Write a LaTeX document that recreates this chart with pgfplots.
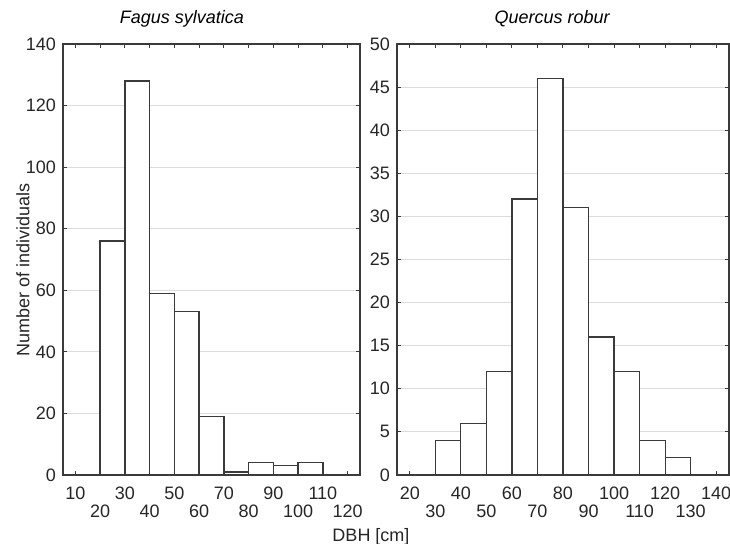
\documentclass[border=0pt]{standalone}
\usepackage{fontspec}
\setmainfont{Liberation Sans}
\usepackage{pgfplots}
\pgfplotsset{compat=1.18}

\definecolor{edge}{HTML}{3A3A3A}
\definecolor{gridc}{HTML}{DCDCDC}

\pgfplotsset{
  hist/.style={
    scale only axis,
    height=215.5pt,
    ymin=0,
    tick align=inside,
    major tick length=2pt,
    axis line style={edge, line width=0.6pt},
    every tick/.style={edge, line width=0.5pt},
    ymajorgrids, major grid style={gridc, line width=0.4pt},
    tick label style={font=\fontsize{9}{11}\selectfont, text=black!85},
    /pgf/number format/assume math mode=true,
    xticklabel style={yshift=-2.5pt},
    extra x tick style={xticklabel style={yshift=-9pt}},
    title style={font=\fontsize{9}{11}\selectfont\itshape, anchor=base, yshift=4pt},
  },
  bars/.style={ybar interval, fill=white, draw=edge, line width=0.65pt},
}

\begin{document}
\begin{tikzpicture}
% Fagus sylvatica
\begin{axis}[hist,
    name=left,
    width=148.5pt,
    xmin=5, xmax=125,
    ymax=140, ytick={0,20,...,140},
    xtick={10,30,...,110},
    extra x ticks={20,40,...,120},
    title={Fagus sylvatica},
    title style={at={(0.40,1)}},
]
\addplot[bars] coordinates {
    (20,76) (30,128) (40,59) (50,53) (60,19)
    (70,1) (80,4) (90,3) (100,4) (110,0)
};
\end{axis}

% Quercus robur
\begin{axis}[hist,
    name=right,
    at={(167pt,0)},
    width=166pt,
    xmin=15, xmax=145,
    ymax=50, ytick={0,5,...,50},
    xtick={20,40,...,140},
    extra x ticks={30,50,...,130},
    title={Quercus robur},
    title style={at={(0.467,1)}},
]
\addplot[bars] coordinates {
    (30,4) (40,6) (50,12) (60,32) (70,46) (80,31)
    (90,16) (100,12) (110,4) (120,2) (130,0)
};
\end{axis}

\node[rotate=90, font=\fontsize{9}{11}\selectfont, text=black!85] at (-20pt,102.5pt) {Number of individuals};
\node[font=\fontsize{9}{11}\selectfont, text=black!85] at (154pt,-31pt) {DBH [cm]};

\pgfresetboundingbox
\path (-31.5pt,-34.5pt) rectangle (333.5pt,237.5pt);
\end{tikzpicture}
\end{document}
